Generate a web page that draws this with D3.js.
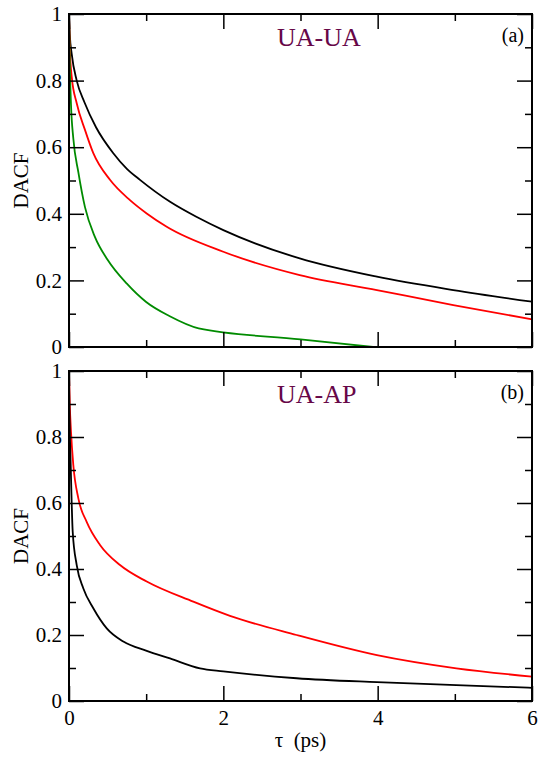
<!DOCTYPE html>
<html>
<head>
<meta charset="utf-8">
<script src="https://cdn.jsdelivr.net/npm/d3@7"></script>
<style>
  html, body { margin: 0; padding: 0; background: #fff; }
  svg { display: block; }
</style>
</head>
<body>
<svg id="chart" width="540" height="758"></svg>
<script>
// ---------- DATA ----------
const xTickValues = [0, 2, 4, 6];
const xTickLabels = ["0", "2", "4", "6"];
const xMinorTicks = [1, 3, 5];
const yTickValues = [0, 0.2, 0.4, 0.6, 0.8, 1];
const yTickLabels = ["0", "0.2", "0.4", "0.6", "0.8", "1"];
const yMinorTicks = [0.1, 0.3, 0.5, 0.7, 0.9];

// Panel (a) UA-UA
const aBlackT = [0, 0.01, 0.035, 0.1, 0.2, 0.35, 0.574, 0.75, 0.92, 1.31, 1.65, 2.0, 2.99, 3.99, 4.98, 6.0];
const aBlackV = [1, 0.94, 0.88, 0.80, 0.735, 0.66, 0.582, 0.535, 0.502, 0.436, 0.391, 0.351, 0.266, 0.211, 0.171, 0.136];
const aRedT = [0, 0.01, 0.035, 0.1, 0.207, 0.315, 0.531, 0.79, 1.007, 1.266, 2.0, 2.99, 3.99, 4.98, 6.0];
const aRedV = [1, 0.9, 0.812, 0.732, 0.652, 0.582, 0.502, 0.441, 0.401, 0.361, 0.286, 0.216, 0.171, 0.126, 0.083];
const aGreenT = [0, 0.01, 0.026, 0.056, 0.121, 0.207, 0.337, 0.5, 0.75, 1.0, 1.3, 1.68, 3.0, 3.94];
const aGreenV = [1, 0.85, 0.727, 0.626, 0.525, 0.42, 0.33, 0.262, 0.19, 0.135, 0.093, 0.056, 0.023, 0.0];

// Panel (b) UA-AP
const bRedT = [0, 0.01, 0.026, 0.056, 0.121, 0.229, 0.402, 0.661, 1.007, 1.611, 2.086, 2.95, 3.99, 5.02, 6.0];
const bRedV = [1, 0.9, 0.816, 0.715, 0.614, 0.543, 0.473, 0.412, 0.362, 0.301, 0.258, 0.2, 0.139, 0.099, 0.074];
const bBlackT = [0, 0.008, 0.022, 0.048, 0.1, 0.186, 0.315, 0.489, 0.704, 1.007, 1.309, 1.698, 2.0, 2.95, 3.99, 5.02, 6.0];
const bBlackV = [1, 0.85, 0.715, 0.513, 0.412, 0.341, 0.281, 0.22, 0.18, 0.152, 0.129, 0.099, 0.09, 0.069, 0.057, 0.048, 0.04];

const zip = (t, v) => t.map((d, i) => [d, v[i]]);

const panels = [
  { id: "a", title: "UA-UA", tag: "(a)", top: 14, bottom: 347, showX: false,
    series: [
      { color: "#000000", pts: zip(aBlackT, aBlackV) },
      { color: "#ff0000", pts: zip(aRedT, aRedV) },
      { color: "#008b00", pts: zip(aGreenT, aGreenV) }
    ] },
  { id: "b", title: "UA-AP", tag: "(b)", top: 371, bottom: 701, showX: true,
    series: [
      { color: "#ff0000", pts: zip(bRedT, bRedV) },
      { color: "#000000", pts: zip(bBlackT, bBlackV) }
    ] }
];

// ---------- DRAW ----------
const FONT = "Liberation Serif";
const svg = d3.select("#chart");
const left = 69, right = 532;
const x = d3.scaleLinear().domain([0, 6]).range([left, right]);
const MAJ = 15, MIN = 7;

panels.forEach(p => {
  const y = d3.scaleLinear().domain([0, 1]).range([p.bottom, p.top]);
  const g = svg.append("g");

  g.append("clipPath").attr("id", "clip-" + p.id)
    .append("rect").attr("x", left).attr("y", p.top)
    .attr("width", right - left).attr("height", p.bottom - p.top);

  const line = d3.line().x(d => x(d[0])).y(d => y(d[1])).curve(d3.curveMonotoneX);
  const lg = g.append("g").attr("clip-path", "url(#clip-" + p.id + ")");
  p.series.forEach(s => {
    lg.append("path").datum(s.pts)
      .attr("d", line).attr("fill", "none")
      .attr("stroke", s.color).attr("stroke-width", 1.8)
      .attr("stroke-linejoin", "round");
  });

  const styleAxis = (sel, showLabels) => {
    sel.attr("font-family", FONT);
    sel.select(".domain").remove();
    sel.selectAll(".tick line").attr("stroke", "#000").attr("stroke-width", 1.5);
    sel.selectAll(".tick text").attr("font-size", 21).attr("fill", "#000")
      .style("font-family", FONT);
    if (!showLabels) sel.selectAll(".tick text").remove();
  };

  const xb = g.append("g").attr("transform", `translate(0,${p.bottom})`)
    .call(d3.axisBottom(x).tickValues(xTickValues).tickSize(-MAJ).tickPadding(9)
      .tickFormat((d, i) => xTickLabels[i]));
  styleAxis(xb, p.showX);
  g.append("g").attr("transform", `translate(0,${p.bottom})`)
    .call(d3.axisBottom(x).tickValues(xMinorTicks).tickSize(-MIN).tickFormat(""))
    .call(s => styleAxis(s, false));
  g.append("g").attr("transform", `translate(0,${p.top})`)
    .call(d3.axisTop(x).tickValues(xTickValues).tickSize(-MAJ).tickFormat(""))
    .call(s => styleAxis(s, false));
  g.append("g").attr("transform", `translate(0,${p.top})`)
    .call(d3.axisTop(x).tickValues(xMinorTicks).tickSize(-MIN).tickFormat(""))
    .call(s => styleAxis(s, false));
  const yl = g.append("g").attr("transform", `translate(${left},0)`)
    .call(d3.axisLeft(y).tickValues(yTickValues).tickSize(-MAJ).tickPadding(7)
      .tickFormat((d, i) => yTickLabels[i]));
  styleAxis(yl, true);
  g.append("g").attr("transform", `translate(${left},0)`)
    .call(d3.axisLeft(y).tickValues(yMinorTicks).tickSize(-MIN).tickFormat(""))
    .call(s => styleAxis(s, false));
  g.append("g").attr("transform", `translate(${right},0)`)
    .call(d3.axisRight(y).tickValues(yTickValues).tickSize(-MAJ).tickFormat(""))
    .call(s => styleAxis(s, false));
  g.append("g").attr("transform", `translate(${right},0)`)
    .call(d3.axisRight(y).tickValues(yMinorTicks).tickSize(-MIN).tickFormat(""))
    .call(s => styleAxis(s, false));

  g.append("rect").attr("x", left).attr("y", p.top)
    .attr("width", right - left).attr("height", p.bottom - p.top)
    .attr("fill", "none").attr("stroke", "#000").attr("stroke-width", 2);

  g.append("text").attr("x", 277).attr("y", p.top + 32).style("font-family", FONT)
    .attr("font-size", 26).attr("fill", "#670748").text(p.title);
  g.append("text").attr("x", 524).attr("y", p.top + 28).style("font-family", FONT)
    .attr("text-anchor", "end").attr("font-size", 20).attr("fill", "#000").text(p.tag);

  g.append("text").style("font-family", FONT)
    .attr("transform", `translate(28,${(p.top + p.bottom) / 2}) rotate(-90)`)
    .attr("text-anchor", "middle").attr("font-size", 21).attr("fill", "#000")
    .text("DACF");
});

svg.append("text").attr("x", (left + right) / 2).attr("y", 747).style("font-family", FONT)
  .attr("text-anchor", "middle").attr("font-size", 21).attr("fill", "#000")
  .style("white-space", "pre")
  .text("τ  (ps)");
</script>
</body>
</html>
